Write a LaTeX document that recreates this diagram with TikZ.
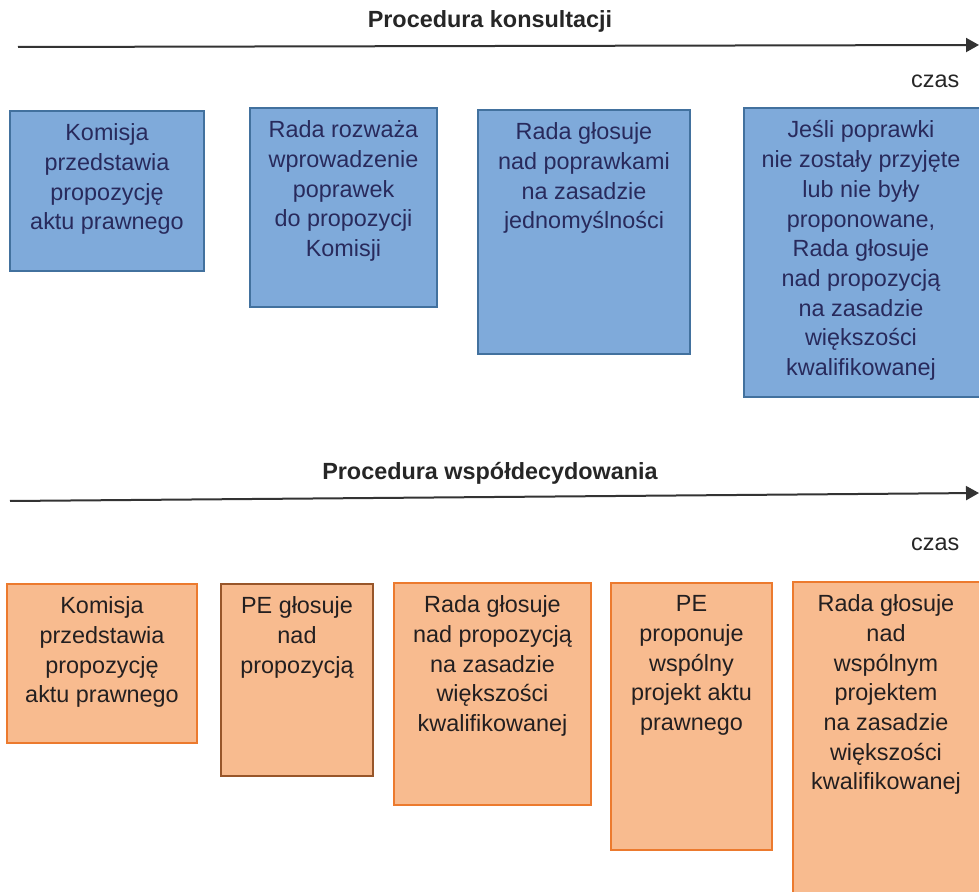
\documentclass[tikz,border=0pt]{standalone}
\usepackage{fontspec}
\setmainfont{Liberation Sans}
\usetikzlibrary{arrows.meta, positioning}
\definecolor{kfill}{RGB}{127,170,218}
\definecolor{kdraw}{RGB}{66,113,158}
\definecolor{ktext}{RGB}{40,42,92}
\definecolor{wfill}{RGB}{248,187,143}
\definecolor{wdraw}{RGB}{236,122,46}
\definecolor{wdark}{RGB}{152,86,42}
\definecolor{wtext}{RGB}{35,31,32}
\tikzset{every picture/.style={line width=0.75pt}}

\begin{document}
\begin{tikzpicture}[x=0.5pt,y=-0.5pt,
    kbox/.style={draw=kdraw,line width=1pt,fill=kfill,anchor=north west,inner sep=0pt},
    wbox/.style={draw=wdraw,line width=1pt,fill=wfill,anchor=north west,inner sep=0pt},
    boxtxt/.style={anchor=north,inner sep=0pt,align=center,font=\fontsize{11.7}{14.85}\selectfont},
    ktxt/.style={boxtxt,text=ktext},
    wtxt/.style={boxtxt,text=wtext},
    heading/.style={anchor=base,inner sep=0pt,font=\fontsize{11.7}{14}\selectfont\bfseries,text=black!85},
    czas/.style={anchor=base east,inner sep=0pt,font=\fontsize{11.7}{14}\selectfont,text=black!85},
    timeline/.style={draw=black!80,line width=1pt,-{Triangle[length=6.5pt,width=7pt]}}]
    \useasboundingbox (0,0) rectangle (979,892);
    \clip (0,0) rectangle (979,892);

    % procedura konsultacji
    \node[heading] (kh) at (490,28) {Procedura konsultacji};
    \coordinate (ks) at (18,47);
    \coordinate (ke) at (979,45);
    \draw[timeline] (ks) -- (ke);
    \node[czas] (kc) at (960,88) {czas};

    \node[kbox,minimum width=97pt,minimum height=80pt] (k1) at (9,110) {};
    \node[kbox,minimum width=93.5pt,minimum height=99.5pt] (k2) at (249,107) {};
    \node[kbox,minimum width=106pt,minimum height=122pt] (k3) at (477,109) {};
    \node[kbox,minimum width=121pt,minimum height=144.5pt] (k4) at (743,107) {};

    \node[ktxt] (k1t) at ([yshift=-6.5pt]k1.north) {Komisja\\przedstawia\\propozycję\\aktu prawnego};
    \node[ktxt] (k2t) at ([yshift=-6.5pt]k2.north) {Rada rozważa\\wprowadzenie\\poprawek\\do propozycji\\Komisji};
    \node[ktxt] (k3t) at ([yshift=-6.5pt]k3.north) {Rada głosuje\\nad poprawkami\\na zasadzie\\jednomyślności};
    \node[ktxt] (k4t) at ([xshift=-2pt,yshift=-6.5pt]k4.north) {Jeśli poprawki\\nie zostały przyjęte\\lub nie były\\proponowane,\\Rada głosuje\\nad propozycją\\na zasadzie\\większości\\kwalifikowanej};

    % procedura wspoldecydowania
    \node[heading] (wh) at (490,480) {Procedura współdecydowania};
    \coordinate (ws) at (10,501);
    \coordinate (we) at (979,493);
    \draw[timeline] (ws) -- (we);
    \node[czas] (wc) at (960,551) {czas};

    \node[wbox,minimum width=95pt,minimum height=79.5pt] (w1) at (6,583) {};
    \node[wbox,draw=wdark,minimum width=76pt,minimum height=96pt] (w2) at (220,583) {};
    \node[wbox,minimum width=98.5pt,minimum height=111pt] (w3) at (393,582) {};
    \node[wbox,minimum width=80.5pt,minimum height=133.5pt] (w4) at (610,582) {};
    \node[wbox,minimum width=97pt,minimum height=160pt] (w5) at (792,581) {};

    \node[wtxt] (w1t) at ([yshift=-6.5pt]w1.north) {Komisja\\przedstawia\\propozycję\\aktu prawnego};
    \node[wtxt] (w2t) at ([yshift=-6.5pt]w2.north) {PE głosuje\\nad\\propozycją};
    \node[wtxt] (w3t) at ([yshift=-6.5pt]w3.north) {Rada głosuje\\nad propozycją\\na zasadzie\\większości\\kwalifikowanej};
    \node[wtxt] (w4t) at ([yshift=-6.5pt]w4.north) {PE\\proponuje\\wspólny\\projekt aktu\\prawnego};
    \node[wtxt] (w5t) at ([xshift=-2pt,yshift=-6.5pt]w5.north) {Rada głosuje\\nad\\wspólnym\\projektem\\na zasadzie\\większości\\kwalifikowanej};
\end{tikzpicture}
\end{document}
